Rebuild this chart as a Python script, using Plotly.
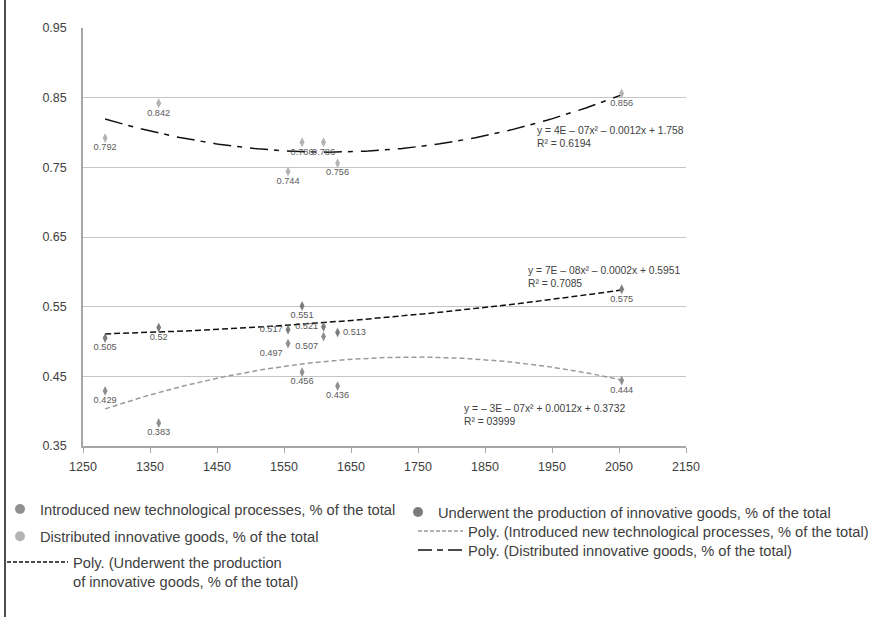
import numpy as np
import plotly.graph_objects as go

# Horizontal positions of the seven observations
x_vals = [1283, 1363, 1556, 1577, 1609, 1630, 2054]

# Shares, % of the total
introduced = [0.429, 0.383, 0.497, 0.456, 0.507, 0.436, 0.444]
underwent = [0.505, 0.52, 0.517, 0.551, 0.521, 0.513, 0.575]
distributed = [0.792, 0.842, 0.744, 0.786, 0.786, 0.756, 0.856]

# Where each value label sits relative to its point
pos_introduced = ["bottom center", "bottom center", "bottom left", "bottom center",
                  "bottom left", "bottom center", "bottom center"]
pos_underwent = ["bottom center", "bottom center", "middle left", "bottom center",
                 "middle left", "middle right", "bottom center"]
pos_distributed = ["bottom center"] * 7

# Trendline equations shown next to each curve
eq_distributed = "y = 4E – 07x² – 0.0012x + 1.758<br>R² = 0.6194"
eq_underwent = "y = 7E – 08x² – 0.0002x + 0.5951<br>R² = 0.7085"
eq_introduced = "y = – 3E – 07x² + 0.0012x + 0.3732<br>R² = 03999"

name_intro = "Introduced new technological processes, % of the total"
name_under = "Underwent the production of innovative goods, % of the total"
name_distr = "Distributed innovative goods, % of the total"

FONT = "Liberation Sans, Arial, sans-serif"
TXT = "#404040"

col_intro = "#8f8f8f"
col_under = "#7c7c7c"
col_distr = "#b3b3b3"

W, H = 874, 617
ML, MR, MT, MB = 83, 188, 28, 171
PW, PH = W - ML - MR, H - MT - MB


def px_x(px):
    return (px - ML) / PW


def px_y(px):
    return (H - MB - px) / PH


def quad_trend(x, y, n=160):
    coef = np.polyfit(x, y, 2)
    xs = np.linspace(min(x), max(x), n)
    return xs, np.polyval(coef, xs)


fig = go.Figure()

# Second-order polynomial trendlines
for ys, color, dash in [
    (distributed, "#111111", "18px,6px,5px,8px"),
    (underwent, "#111111", "6px,3px"),
    (introduced, "#9a9a9a", "5px,3px"),
]:
    tx, ty = quad_trend(x_vals, ys)
    fig.add_trace(go.Scatter(x=tx, y=ty, mode="lines", showlegend=False,
                             hoverinfo="skip",
                             line=dict(color=color, width=1.5, dash=dash)))

# Observations with value labels
for ys, color, pos in [(introduced, col_intro, pos_introduced),
                       (distributed, col_distr, pos_distributed),
                       (underwent, col_under, pos_underwent)]:
    fig.add_trace(go.Scatter(
        x=x_vals, y=ys, mode="markers+text", showlegend=False,
        text=[str(v) for v in ys], textposition=pos,
        textfont=dict(family=FONT, size=9.2, color="#595959"),
        marker=dict(symbol="diamond-tall", size=7, color=color,
                    line=dict(width=0)),
    ))


# Legend entries
def legend_marker(name, color, legend, group):
    fig.add_trace(go.Scatter(x=[None], y=[None], mode="markers", name=name,
                             legend=legend, legendgroup=group,
                             marker=dict(symbol="circle", size=10, color=color)))


def legend_line(name, color, dash, legend, group):
    fig.add_trace(go.Scatter(x=[None], y=[None], mode="lines", name=name,
                             legend=legend, legendgroup=group,
                             line=dict(color=color, width=1.5, dash=dash)))


legend_marker(name_intro, col_intro, "legend", "a")
legend_marker(name_distr, col_distr, "legend", "b")
legend_line("Poly. (Underwent the production<br>of innovative goods, % of the total)",
            "#111111", "4px,2px", "legend2", "c")
legend_marker(name_under, col_under, "legend3", "d")
legend_line("Poly. (Introduced new technological processes, % of the total)",
            "#9a9a9a", "4px,2px", "legend4", "e")
legend_line("Poly. (Distributed innovative goods, % of the total)",
            "#111111", "14px,5px,6px,5px", "legend5", "f")

leg_common = dict(xanchor="left", yanchor="top",
                  bgcolor="rgba(0,0,0,0)", borderwidth=0,
                  font=dict(family=FONT, size=14.7, color=TXT))

fig.update_layout(
    width=W, height=H,
    margin=dict(l=ML, r=MR, t=MT, b=MB, autoexpand=False),
    paper_bgcolor="white", plot_bgcolor="white",
    font=dict(family=FONT, color=TXT),
    legend=dict(x=px_x(0), y=px_y(493), tracegroupgap=5, **leg_common),
    legend2=dict(x=px_x(2), y=px_y(546), itemwidth=61, valign="top", **leg_common),
    legend3=dict(x=px_x(398), y=px_y(496), **leg_common),
    legend4=dict(x=px_x(413), y=px_y(515), itemwidth=45, **leg_common),
    legend5=dict(x=px_x(413), y=px_y(534), itemwidth=45, **leg_common),
    xaxis=dict(range=[1250, 2150], tick0=1250, dtick=100, showgrid=False,
               zeroline=False, showline=True, linecolor="#a6a6a6", linewidth=1.5,
               ticks="outside", ticklen=5, tickcolor="#a6a6a6", tickwidth=1,
               ticklabelstandoff=3,
               tickfont=dict(family=FONT, size=12.5, color=TXT)),
    yaxis=dict(range=[0.35, 0.95], tick0=0.35, dtick=0.1, tickformat=".2f",
               showgrid=True, gridcolor="#c4c4c4", gridwidth=1, zeroline=False,
               showline=True, linecolor="#a6a6a6", linewidth=1.5, ticks="",
               ticklabelstandoff=12,
               tickfont=dict(family=FONT, size=12.5, color=TXT)),
)

eq_font = dict(family=FONT, size=10.3, color="#404040")
for txt, ax, ay in [(eq_distributed, 1925, 0.794),
                    (eq_underwent, 1911, 0.592),
                    (eq_introduced, 1816, 0.394)]:
    fig.add_annotation(x=ax, y=ay, xref="x", yref="y", text=txt, showarrow=False,
                       xanchor="left", yanchor="middle", align="left", font=eq_font)

# Frame edge on the left of the chart area
fig.add_shape(type="line", xref="paper", yref="paper",
              x0=px_x(5), x1=px_x(5), y0=px_y(H), y1=px_y(0),
              line=dict(color="#111111", width=1.5))

fig.write_html("out.html")
